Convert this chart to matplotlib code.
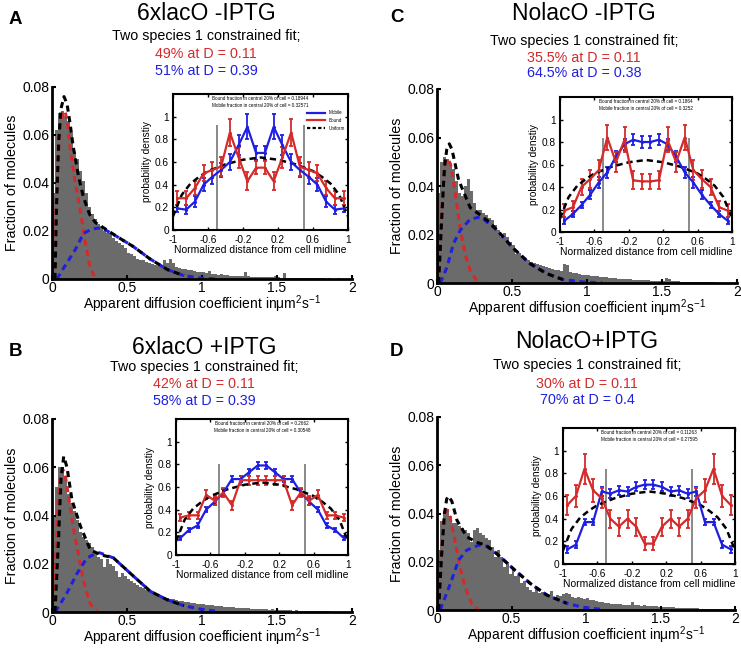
import numpy as np
import matplotlib
matplotlib.use('Agg')
import matplotlib.pyplot as plt
from matplotlib.lines import Line2D

plt.rcParams['font.family'] = ['Liberation Sans', 'DejaVu Sans']
plt.rcParams['mathtext.fontset'] = 'custom'
plt.rcParams['mathtext.rm'] = 'Liberation Sans'
plt.rcParams['mathtext.default'] = 'regular'

# ---- histogram data: fraction of molecules, bins of 0.02 from 0 to 2 ----
bin_edges = np.linspace(0, 2, 101)

hist_a = [0.036, 0.062, 0.069, 0.070, 0.068, 0.066, 0.061, 0.053, 0.050, 0.045,
          0.041, 0.036, 0.030, 0.027, 0.025, 0.023, 0.022, 0.020, 0.019, 0.019,
          0.017, 0.016, 0.015, 0.014, 0.013, 0.011, 0.0105, 0.0095, 0.0085, 0.008,
          0.0078, 0.0072, 0.0065, 0.0062, 0.0058, 0.0055, 0.0060, 0.0080, 0.0065, 0.0085,
          0.0068, 0.0050, 0.0045, 0.0042, 0.0040, 0.0036, 0.0038, 0.0032, 0.0030, 0.0028,
          0.0030, 0.0025, 0.0032, 0.0022, 0.0020, 0.0018, 0.0020, 0.0016, 0.0015, 0.0014,
          0.0013, 0.0012, 0.0014, 0.0011, 0.0030, 0.0012, 0.0010, 0.0010, 0.0009, 0.0010,
          0.0008, 0.0009, 0.0007, 0.0008, 0.0012, 0.0007, 0.0006, 0.0025, 0.0006, 0.0005,
          0.0005, 0.0006, 0.0004, 0.0005, 0.0004, 0.0003, 0.0004, 0.0003, 0.0004, 0.0003,
          0.0003, 0.0002, 0.0003, 0.0002, 0.0002, 0.0003, 0.0002, 0.0001, 0.0002, 0.0001]

hist_b = [0.040, 0.052, 0.060, 0.060, 0.056, 0.049, 0.045, 0.042, 0.038, 0.033,
          0.031, 0.030, 0.0285, 0.027, 0.025, 0.023, 0.022, 0.0185, 0.022, 0.020,
          0.019, 0.017, 0.0145, 0.016, 0.015, 0.0135, 0.013, 0.012, 0.0112, 0.0105,
          0.010, 0.0092, 0.0088, 0.0082, 0.0078, 0.0072, 0.0068, 0.0062, 0.0058, 0.0055,
          0.0052, 0.0050, 0.0047, 0.0045, 0.0043, 0.0040, 0.0038, 0.0036, 0.0035, 0.0033,
          0.0032, 0.0030, 0.0028, 0.0027, 0.0025, 0.0026, 0.0023, 0.0022, 0.0021, 0.0020,
          0.0019, 0.0018, 0.0017, 0.0016, 0.0016, 0.0015, 0.0014, 0.0013, 0.0014, 0.0012,
          0.0012, 0.0011, 0.0010, 0.0011, 0.0009, 0.0009, 0.0008, 0.0008, 0.0007, 0.0007,
          0.0006, 0.0007, 0.0006, 0.0005, 0.0005, 0.0005, 0.0004, 0.0004, 0.0004, 0.0003,
          0.0003, 0.0003, 0.0003, 0.0002, 0.0002, 0.0002, 0.0002, 0.0002, 0.0001, 0.0001]

hist_c = [0.037, 0.050, 0.052, 0.051, 0.049, 0.047, 0.042, 0.037, 0.036, 0.040,
          0.043, 0.038, 0.033, 0.030, 0.030, 0.029, 0.028, 0.027, 0.026, 0.024,
          0.022, 0.019, 0.0205, 0.019, 0.017, 0.0155, 0.012, 0.0125, 0.011, 0.010,
          0.0095, 0.0088, 0.0082, 0.0080, 0.0075, 0.0072, 0.0065, 0.0060, 0.0058, 0.0055,
          0.0052, 0.0050, 0.0080, 0.0075, 0.0045, 0.0042, 0.0040, 0.0038, 0.0035, 0.0033,
          0.0032, 0.0030, 0.0028, 0.0027, 0.0026, 0.0024, 0.0023, 0.0021, 0.0020, 0.0019,
          0.0018, 0.0017, 0.0016, 0.0015, 0.0015, 0.0014, 0.0013, 0.0012, 0.0012, 0.0011,
          0.0011, 0.0010, 0.0010, 0.0009, 0.0009, 0.0008, 0.0020, 0.0018, 0.0008, 0.0007,
          0.0007, 0.0006, 0.0006, 0.0005, 0.0005, 0.0005, 0.0004, 0.0004, 0.0004, 0.0003,
          0.0003, 0.0003, 0.0003, 0.0002, 0.0002, 0.0002, 0.0002, 0.0001, 0.0001, 0.0001]

hist_d = [0.025, 0.037, 0.041, 0.042, 0.039, 0.036, 0.036, 0.035, 0.034, 0.033,
          0.032, 0.028, 0.033, 0.034, 0.032, 0.031, 0.030, 0.029, 0.026, 0.022,
          0.025, 0.022, 0.018, 0.020, 0.015, 0.018, 0.014, 0.0145, 0.011, 0.012,
          0.0097, 0.0083, 0.0076, 0.0097, 0.0070, 0.0076, 0.0070, 0.0060, 0.0080, 0.0055,
          0.0062, 0.0058, 0.0068, 0.0070, 0.0066, 0.0055, 0.0050, 0.0052, 0.0048, 0.0045,
          0.0048, 0.0042, 0.0040, 0.0036, 0.0034, 0.0033, 0.0030, 0.0028, 0.0026, 0.0025,
          0.0024, 0.0023, 0.0022, 0.0021, 0.0020, 0.0034, 0.0020, 0.0019, 0.0018, 0.0020,
          0.0017, 0.0016, 0.0015, 0.0015, 0.0014, 0.0014, 0.0013, 0.0012, 0.0011, 0.0011,
          0.0010, 0.0009, 0.0009, 0.0008, 0.0008, 0.0007, 0.0007, 0.0007, 0.0006, 0.0006,
          0.0005, 0.0005, 0.0005, 0.0004, 0.0004, 0.0004, 0.0003, 0.0003, 0.0003, 0.0002]

# ---- fitted curves ----
bound_fit_x_a = [0.013, 0.025, 0.04, 0.055, 0.07, 0.087, 0.105, 0.12, 0.153, 0.187, 0.22, 0.253, 0.29]
bound_fit_y_a = [0, 0.025, 0.05, 0.063, 0.069, 0.070, 0.064, 0.055, 0.041, 0.029, 0.016, 0.005, 0]
mobile_fit_x_a = [0.033, 0.078, 0.155, 0.21, 0.255, 0.30, 0.34, 0.43, 0.54, 0.655, 0.77, 0.88, 0.99, 1.1]
mobile_fit_y_a = [0, 0.0046, 0.0122, 0.019, 0.0205, 0.0212, 0.021, 0.0178, 0.0136, 0.0083, 0.0039, 0.0014, 0.0004, 0]
total_fit_x_a = [0.02, 0.03, 0.045, 0.06, 0.08, 0.10, 0.12, 0.142, 0.176, 0.21, 0.25, 0.29, 0.34, 0.43,
                 0.54, 0.655, 0.77, 0.88]
total_fit_y_a = [0, 0.03, 0.058, 0.071, 0.076, 0.073, 0.065, 0.055, 0.043, 0.034, 0.027, 0.0235, 0.0215,
                 0.0178, 0.0136, 0.0083, 0.0039, 0.0014]

bound_fit_x_b = [0.012, 0.025, 0.04, 0.055, 0.07, 0.085, 0.10, 0.12, 0.142, 0.176, 0.209, 0.253, 0.30]
bound_fit_y_b = [0, 0.022, 0.045, 0.056, 0.059, 0.058, 0.052, 0.044, 0.035, 0.024, 0.013, 0.0036, 0]
mobile_fit_x_b = [0.022, 0.10, 0.167, 0.233, 0.30, 0.32, 0.41, 0.544, 0.655, 0.77, 0.88, 0.99, 1.1]
mobile_fit_y_b = [0, 0.0079, 0.016, 0.0224, 0.0245, 0.0245, 0.0224, 0.0148, 0.0086, 0.005, 0.0026, 0.0012, 0.0003]
total_fit_x_b = [0.02, 0.044, 0.06, 0.078, 0.10, 0.133, 0.19, 0.255, 0.32, 0.41, 0.544, 0.655, 0.77, 0.88]
total_fit_y_b = [0, 0.031, 0.055, 0.0645, 0.060, 0.0465, 0.0355, 0.0258, 0.0238, 0.0224, 0.0148, 0.0086,
                 0.005, 0.0026]

bound_fit_x_c = [0.011, 0.025, 0.04, 0.055, 0.071, 0.09, 0.12, 0.153, 0.187, 0.22, 0.264, 0.30]
bound_fit_y_c = [0, 0.02, 0.04, 0.049, 0.0514, 0.049, 0.038, 0.023, 0.012, 0.0054, 0.001, 0]
mobile_fit_x_c = [0.022, 0.067, 0.11, 0.156, 0.22, 0.27, 0.30, 0.40, 0.51, 0.62, 0.73, 0.84, 0.98, 1.1]
mobile_fit_y_c = [0, 0.0066, 0.0163, 0.0218, 0.0262, 0.027, 0.0268, 0.0218, 0.0142, 0.008, 0.0039, 0.0014,
                  0.0004, 0.0001]
total_fit_x_c = [0.011, 0.03, 0.05, 0.065, 0.082, 0.10, 0.144, 0.222, 0.29, 0.35, 0.40, 0.51, 0.62, 0.73, 0.84]
total_fit_y_c = [0, 0.025, 0.048, 0.055, 0.0574, 0.055, 0.0425, 0.031, 0.028, 0.025, 0.0218, 0.0142, 0.008,
                 0.0039, 0.0014]

bound_fit_x_d = [0.011, 0.025, 0.04, 0.055, 0.068, 0.085, 0.12, 0.153, 0.187, 0.231, 0.275]
bound_fit_y_d = [0, 0.018, 0.034, 0.040, 0.0414, 0.039, 0.029, 0.018, 0.0097, 0.0028, 0.0003]
mobile_fit_x_d = [0.022, 0.09, 0.145, 0.20, 0.28, 0.33, 0.40, 0.51, 0.626, 0.737, 0.87, 0.98, 1.1]
mobile_fit_y_d = [0, 0.011, 0.0207, 0.0248, 0.0269, 0.0265, 0.0234, 0.0172, 0.011, 0.0062, 0.0028, 0.0011, 0.0003]
total_fit_x_d = [0.011, 0.03, 0.05, 0.065, 0.078, 0.10, 0.134, 0.20, 0.27, 0.33, 0.40, 0.51, 0.626, 0.737, 0.87]
total_fit_y_d = [0, 0.022, 0.040, 0.046, 0.0472, 0.045, 0.0372, 0.0303, 0.028, 0.0268, 0.0234, 0.0172, 0.011,
                 0.0062, 0.0028]

# ---- inset: spatial distributions ----
position = [-0.95, -0.85, -0.75, -0.65, -0.55, -0.45, -0.35, -0.25, -0.15, -0.05,
            0.05, 0.15, 0.25, 0.35, 0.45, 0.55, 0.65, 0.75, 0.85, 0.95]
uniform_x = [-1, -0.9, -0.8, -0.7, -0.6, -0.5, -0.4, -0.3, -0.2, -0.1, 0,
             0.1, 0.2, 0.3, 0.4, 0.5, 0.6, 0.7, 0.8, 0.9, 1]
uniform_y = [0.12, 0.31, 0.41, 0.47, 0.52, 0.55, 0.58, 0.60, 0.62, 0.63, 0.64,
             0.63, 0.62, 0.60, 0.58, 0.55, 0.52, 0.47, 0.41, 0.31, 0.12]

mobile_a = [0.19, 0.18, 0.25, 0.40, 0.47, 0.53, 0.60, 0.75, 0.91, 0.68, 0.68, 0.91, 0.75, 0.60, 0.53, 0.47, 0.40, 0.25, 0.18, 0.19]
mobile_err_a = [0.03, 0.04, 0.05, 0.06, 0.06, 0.06, 0.07, 0.09, 0.11, 0.06, 0.06, 0.11, 0.09, 0.07, 0.06, 0.06, 0.06, 0.05, 0.04, 0.03]
bound_a = [0.28, 0.28, 0.37, 0.50, 0.53, 0.56, 0.86, 0.64, 0.43, 0.55, 0.55, 0.43, 0.64, 0.86, 0.56, 0.53, 0.50, 0.37, 0.28, 0.28]
bound_err_a = [0.06, 0.06, 0.06, 0.07, 0.07, 0.08, 0.12, 0.09, 0.08, 0.06, 0.06, 0.08, 0.09, 0.12, 0.08, 0.07, 0.07, 0.06, 0.06, 0.06]

mobile_b = [0.15, 0.22, 0.26, 0.40, 0.47, 0.55, 0.67, 0.67, 0.73, 0.79, 0.79, 0.73, 0.67, 0.67, 0.55, 0.47, 0.40, 0.26, 0.22, 0.15]
mobile_err_b = [0.02, 0.02, 0.02, 0.02, 0.03, 0.03, 0.03, 0.03, 0.03, 0.03, 0.03, 0.03, 0.03, 0.03, 0.03, 0.03, 0.02, 0.02, 0.02, 0.02]
bound_b = [0.33, 0.35, 0.35, 0.53, 0.48, 0.55, 0.44, 0.66, 0.66, 0.66, 0.66, 0.66, 0.66, 0.44, 0.55, 0.48, 0.53, 0.35, 0.35, 0.33]
bound_err_b = [0.03, 0.03, 0.03, 0.04, 0.04, 0.04, 0.04, 0.04, 0.04, 0.04, 0.04, 0.04, 0.04, 0.04, 0.04, 0.04, 0.04, 0.03, 0.03, 0.03]

mobile_c = [0.10, 0.16, 0.24, 0.33, 0.44, 0.53, 0.67, 0.78, 0.82, 0.80, 0.80, 0.82, 0.78, 0.67, 0.53, 0.44, 0.33, 0.24, 0.16, 0.10]
mobile_err_c = [0.03, 0.03, 0.03, 0.04, 0.05, 0.05, 0.05, 0.05, 0.05, 0.05, 0.05, 0.05, 0.05, 0.05, 0.05, 0.05, 0.04, 0.03, 0.03, 0.03]
bound_c = [0.19, 0.22, 0.40, 0.47, 0.55, 0.84, 0.62, 0.82, 0.46, 0.45, 0.45, 0.46, 0.82, 0.62, 0.84, 0.55, 0.47, 0.40, 0.22, 0.19]
bound_err_c = [0.06, 0.06, 0.07, 0.08, 0.09, 0.11, 0.09, 0.11, 0.08, 0.07, 0.07, 0.08, 0.11, 0.09, 0.11, 0.09, 0.08, 0.07, 0.06, 0.06]

mobile_d = [0.13, 0.17, 0.37, 0.37, 0.64, 0.62, 0.65, 0.64, 0.68, 0.70, 0.70, 0.68, 0.64, 0.65, 0.62, 0.64, 0.37, 0.37, 0.17, 0.13]
mobile_err_d = [0.03, 0.03, 0.03, 0.03, 0.04, 0.04, 0.04, 0.04, 0.04, 0.04, 0.04, 0.04, 0.04, 0.04, 0.04, 0.04, 0.03, 0.03, 0.03, 0.03]
bound_d = [0.52, 0.60, 0.84, 0.65, 0.58, 0.40, 0.33, 0.40, 0.33, 0.18, 0.18, 0.33, 0.40, 0.33, 0.40, 0.58, 0.65, 0.84, 0.60, 0.52]
bound_err_d = [0.09, 0.10, 0.13, 0.10, 0.09, 0.08, 0.08, 0.08, 0.08, 0.06, 0.06, 0.08, 0.08, 0.08, 0.08, 0.09, 0.10, 0.13, 0.10, 0.09]

central_edges = [-0.5, 0.5]

titles = ['6xlacO -IPTG', '6xlacO +IPTG', 'NolacO -IPTG', 'NolacO+IPTG']
letters = ['A', 'B', 'C', 'D']
bound_text = ['49% at D = 0.11', '42% at D = 0.11', '35.5% at D = 0.11', '30% at D = 0.11']
mobile_text = ['51% at D = 0.39', '58% at D = 0.39', '64.5% at D = 0.38', '70% at D = 0.4']
central_text = [('0.18944', '0.32571'), ('0.2662', '0.30548'), ('0.1864', '0.3252'), ('0.11263', '0.27595')]
legend_labels = ['Mobile', 'Bound', 'Uniform']

RED = '#d42a2a'
BLUE = '#1f1fe0'
GRAY = '#6b6b6b'
W, H = 741, 648

def box(l, t, r, b):
    return [l / W, 1 - b / H, (r - l) / W, (b - t) / H]

fig = plt.figure(figsize=(7.41, 6.48), dpi=100)

panels = [
    dict(hist=hist_a, fits=(bound_fit_x_a, bound_fit_y_a, mobile_fit_x_a, mobile_fit_y_a, total_fit_x_a, total_fit_y_a),
         ins=(mobile_a, mobile_err_a, bound_a, bound_err_a), main=(52, 87, 352, 279), inset=(173, 94, 348, 230),
         head=(15, 19, 206, 13, 36, 54, 71), line_top=0.93),
    dict(hist=hist_b, fits=(bound_fit_x_b, bound_fit_y_b, mobile_fit_x_b, mobile_fit_y_b, total_fit_x_b, total_fit_y_b),
         ins=(mobile_b, mobile_err_b, bound_b, bound_err_b), main=(52, 419, 352, 612), inset=(176, 419, 348, 555),
         head=(15, 352, 204, 347, 367, 384, 401), line_top=0.80),
    dict(hist=hist_c, fits=(bound_fit_x_c, bound_fit_y_c, mobile_fit_x_c, mobile_fit_y_c, total_fit_x_c, total_fit_y_c),
         ins=(mobile_c, mobile_err_c, bound_c, bound_err_c), main=(437, 89, 737, 283), inset=(560, 97, 732, 232),
         head=(397, 17, 584, 13, 41, 58, 73), line_top=0.84),
    dict(hist=hist_d, fits=(bound_fit_x_d, bound_fit_y_d, mobile_fit_x_d, mobile_fit_y_d, total_fit_x_d, total_fit_y_d),
         ins=(mobile_d, mobile_err_d, bound_d, bound_err_d), main=(437, 417, 735, 610), inset=(563, 428, 735, 564),
         head=(396, 352, 587, 342, 365, 384, 400), line_top=0.84),
]

for i, p in enumerate(panels):
    # headings
    lx, ly, cx, ty, sy, ry, by = p['head']
    fig.text(lx / W, 1 - ly / H, letters[i], fontsize=13.5, fontweight='bold', ha='center', va='center')
    fig.text(cx / W, 1 - ty / H, titles[i], fontsize=16.5, ha='center', va='center')
    fig.text(cx / W, 1 - sy / H, 'Two species 1 constrained fit;', fontsize=10.3, ha='center', va='center')
    fig.text(cx / W, 1 - ry / H, bound_text[i], fontsize=10.3, ha='center', va='center', color=RED)
    fig.text(cx / W, 1 - by / H, mobile_text[i], fontsize=10.3, ha='center', va='center', color=BLUE)

    # main histogram
    ax = fig.add_axes(box(*p['main']))
    ax.stairs(p['hist'], bin_edges, fill=True, color=GRAY, lw=0)
    bx, byy, mx, my, tx, tyy = p['fits']
    ax.plot(bx, byy, color=RED, lw=2.2, ls=(0, (2, 1.5)))
    ax.plot(mx, my, color=BLUE, lw=2.2, ls=(0, (2, 1.5)))
    ax.plot(tx, tyy, color='black', lw=2.2, ls=(0, (2, 1.5)))
    ax.set_xlim(0, 2)
    ax.set_ylim(0, 0.08)
    ax.set_xticks([0, 0.5, 1, 1.5, 2])
    ax.set_xticklabels(['0', '0.5', '1', '1.5', '2'])
    ax.set_yticks([0, 0.02, 0.04, 0.06, 0.08])
    ax.set_yticklabels(['0', '0.02', '0.04', '0.06', '0.08'])
    ax.spines['top'].set_visible(False)
    ax.spines['right'].set_visible(False)
    ax.spines['left'].set_linewidth(2)
    ax.spines['bottom'].set_linewidth(2)
    ax.tick_params(direction='in', length=3, width=1.5, labelsize=10)
    ax.tick_params(axis='x', pad=1.5)
    ax.tick_params(axis='y', pad=2)
    ax.set_ylabel('Fraction of molecules', fontsize=10.3, labelpad=2)
    ax.set_xlabel('Apparent diffusion coefficient inμm$^2$s$^{-1}$', fontsize=10, labelpad=-1)

    # inset spatial distribution
    mob, mob_err, bnd, bnd_err = p['ins']
    ins = fig.add_axes(box(*p['inset']))
    ins.vlines(central_edges, 0, p['line_top'], color='#808080', lw=1.3)
    ins.errorbar(position, mob, yerr=mob_err, color=BLUE, lw=1.6, elinewidth=1.3,
                 capsize=1.6, capthick=1.3, marker='.', ms=2.5)
    ins.errorbar(position, bnd, yerr=bnd_err, color=RED, lw=1.6, elinewidth=1.3,
                 capsize=1.6, capthick=1.3, marker='.', ms=2.5)
    ins.plot(uniform_x, uniform_y, color='black', lw=1.8, ls=(0, (2.5, 1.6)))
    ins.set_xlim(-1, 1)
    ins.set_ylim(0, 1.2)
    ins.set_xticks([-1, -0.6, -0.2, 0.2, 0.6, 1])
    ins.set_xticklabels(['-1', '-0.6', '-0.2', '0.2', '0.6', '1'])
    ins.set_yticks([0, 0.2, 0.4, 0.6, 0.8, 1])
    ins.set_yticklabels(['0', '0.2', '0.4', '0.6', '0.8', '1'])
    for s in ins.spines.values():
        s.set_linewidth(1.5)
    ins.tick_params(direction='in', length=2.5, width=1, labelsize=7.3, top=True, right=True)
    ins.tick_params(axis='x', pad=3.5)
    ins.tick_params(axis='y', pad=3)
    ins.set_xlabel('Normalized distance from cell midline', fontsize=7.5, labelpad=0)
    ins.set_ylabel('probability denstiy', fontsize=7.3, labelpad=2)
    bf, mf = central_text[i]
    ins.text(0.5, 0.985, 'Bound fraction in central 20% of cell = ' + bf + '\n'
             'Mobile fraction in central 20% of cell = ' + mf,
             transform=ins.transAxes, ha='center', va='top', fontsize=3.3, linespacing=1.4)
    if i == 0:
        hh = [Line2D([], [], color=BLUE, lw=1.6), Line2D([], [], color=RED, lw=1.6),
              Line2D([], [], color='black', lw=1.6, ls=(0, (1.5, 1)))]
        ins.legend(hh, legend_labels, loc='upper right', bbox_to_anchor=(1.0, 0.9), fontsize=3.3,
                   frameon=False, handlelength=4, handletextpad=0.8, labelspacing=0.6,
                   borderaxespad=0.2)

fig.savefig('out.png', dpi=100)
